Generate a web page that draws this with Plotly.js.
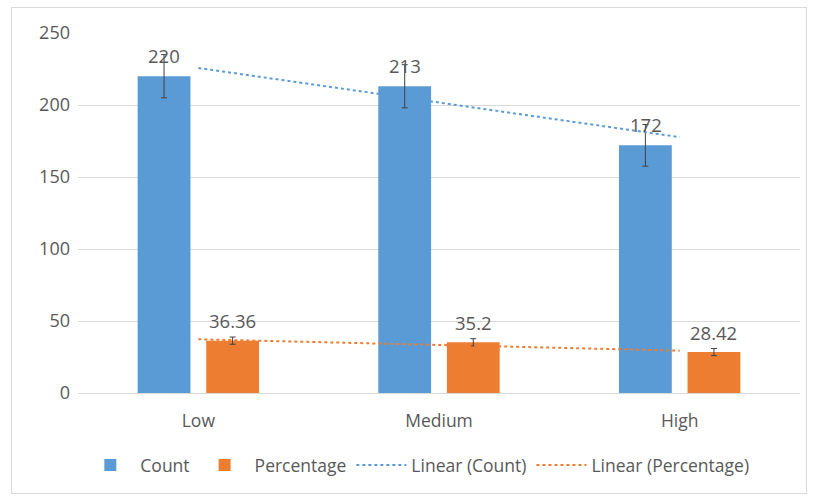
<!DOCTYPE html>
<html><head><meta charset="utf-8">
<script src="https://cdn.plot.ly/plotly-3.0.1.min.js"></script>
<style>
body{margin:0;background:#fff;}
#wrap{position:relative;width:816px;height:498px;}
#frame{position:absolute;left:11px;top:7px;width:794px;height:485px;border:1px solid #d9d9d9;}
#chart{position:absolute;left:0;top:0;width:816px;height:498px;}
</style></head>
<body>
<div id="wrap"><div id="frame"></div><div id="chart"></div></div>
<script>
const categories = ["Low", "Medium", "High"];
const countValues = [220, 213, 172];
const countErrors = [15, 15, 14.5];
const pctValues = [36.36, 35.2, 28.42];
const pctErrors = [2.5, 2.5, 2.5];
const countLabels = ["220", "213", "172"];
const pctLabels = ["36.36", "35.2", "28.42"];
const trendCount = [225.7, 201.7, 177.7];
const trendPct = [37.3, 33.3, 29.4];
const yTicks = [0, 50, 100, 150, 200, 250];

const fontFam = "'Open Sans', 'Noto Sans', sans-serif";
const gray = "#595959";

const traces = [
  {type:"bar", name:"Count", x:categories, y:countValues,
   marker:{color:"#5B9BD5"},
   error_y:{type:"data", array:countErrors, visible:true, color:"#404040", thickness:1, width:3}},
  {type:"bar", name:"Percentage", x:categories, y:pctValues,
   marker:{color:"#ED7D31"},
   error_y:{type:"data", array:pctErrors, visible:true, color:"#404040", thickness:1, width:3}},
  {type:"scatter", mode:"lines", name:"Linear (Count)", x:categories, y:trendCount,
   line:{color:"#5B9BD5", dash:"dot", width:2}},
  {type:"scatter", mode:"lines", name:"Linear (Percentage)", x:categories, y:trendPct,
   line:{color:"#ED7D31", dash:"dot", width:2}}
];

const annotations = [];
categories.forEach((c, i) => {
  annotations.push({x:c, y:countValues[i], text:countLabels[i], showarrow:false,
    xshift:-34, yshift:21, yanchor:"middle", font:{family:fontFam, size:18.5, color:gray}});
  annotations.push({x:c, y:pctValues[i], text:pctLabels[i], showarrow:false,
    xshift:34, yshift:20, yanchor:"middle", font:{family:fontFam, size:18.5, color:gray}});
});

const layout = {
  width:816, height:498,
  margin:{l:78, r:16, t:33, b:105},
  paper_bgcolor:"rgba(0,0,0,0)", plot_bgcolor:"rgba(0,0,0,0)",
  barmode:"group", bargap:0.43, bargroupgap:0.23,
  font:{family:fontFam, color:gray, size:17},
  showlegend:true,
  legend:{orientation:"h", x:0.47, xanchor:"center", y:-0.15, yanchor:"top",
          itemwidth:50, font:{family:fontFam, size:17.5, color:gray}, traceorder:"normal"},
  xaxis:{type:"category", showgrid:false, showline:false, zeroline:false,
         ticks:"outside", ticklen:12, tickcolor:"rgba(0,0,0,0)",
         tickfont:{family:fontFam, size:17.5, color:gray}},
  yaxis:{range:[0,250], tickvals:yTicks, showgrid:true, gridcolor:"#d9d9d9", gridwidth:1,
         zeroline:true, zerolinecolor:"#d9d9d9", zerolinewidth:1, showline:false,
         tickfont:{family:fontFam, size:18, color:gray}, ticks:"", ticklabelstandoff:7},
  annotations:annotations
};

Plotly.newPlot("chart", traces, layout, {displayModeBar:false, staticPlot:true});
</script>
</body></html>
